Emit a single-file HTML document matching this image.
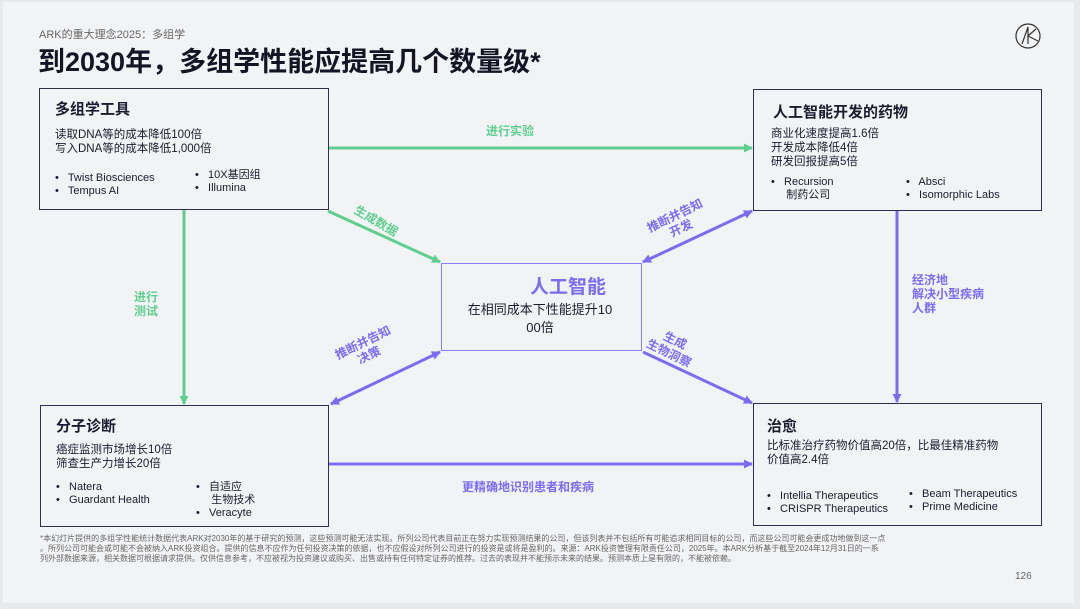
<!DOCTYPE html>
<html><head><meta charset="utf-8"><style>
*{margin:0;padding:0;box-sizing:border-box}
body{width:1080px;height:609px;background:#e8e9eb;position:relative;overflow:hidden;font-family:"Liberation Sans","Noto Sans CJK SC",sans-serif;color:#1b1b2f}
.slide{position:absolute;left:3px;top:2px;width:1071px;height:601px;background:#f2f3f5}
.a{position:absolute}
.box{position:absolute;border:1.5px solid #2f2f4f;background:#f2f3f5}
.h{font-weight:bold;font-size:15px}
.t{font-size:11.5px;line-height:14px}
.b{font-size:11px;line-height:13px}
.lab{position:absolute;font-weight:bold;font-size:12px;line-height:14px;text-align:center}
.g{color:#5fcf8d}.p{color:#7b6cf3}
</style></head><body>
<div class="slide"></div>
<div class="a" style="left:39px;top:26px;font-size:11px;color:#666">ARK的重大理念2025：多组学</div>
<div class="a" style="left:38px;top:40px;font-size:27px;font-weight:bold;color:#141425">到2030年，多组学性能应提高几个数量级*</div>
<svg class="a" style="left:1014px;top:22px" width="28" height="28" viewBox="0 0 28 28"><circle cx="14" cy="14" r="12" fill="none" stroke="#333" stroke-width="1.2"/><path d="M8 22 L14 5 L14 22 M14 14 L22 7 M14 14 L24 19" fill="none" stroke="#333" stroke-width="1.2"/></svg>

<svg class="a" style="left:0;top:0" width="1080" height="609">
<defs>
<marker id="mg" markerWidth="9" markerHeight="9" refX="8" refY="4.5" orient="auto-start-reverse" markerUnits="userSpaceOnUse"><path d="M0,0 L9,4.5 L0,9 z" fill="#5fcf8d"/></marker>
<marker id="mp" markerWidth="9" markerHeight="9" refX="8" refY="4.5" orient="auto-start-reverse" markerUnits="userSpaceOnUse"><path d="M0,0 L9,4.5 L0,9 z" fill="#7b6cf3"/></marker>
</defs>
<g stroke-width="3" fill="none">
<line x1="328" y1="148" x2="752" y2="148" stroke="#5fcf8d" marker-end="url(#mg)"/>
<line x1="184" y1="209" x2="184" y2="404" stroke="#5fcf8d" marker-end="url(#mg)"/>
<line x1="328" y1="211" x2="440" y2="262" stroke="#5fcf8d" marker-end="url(#mg)"/>
<line x1="643" y1="262" x2="752" y2="211" stroke="#7b6cf3" marker-start="url(#mp)" marker-end="url(#mp)"/>
<line x1="331" y1="404" x2="440" y2="352" stroke="#7b6cf3" marker-start="url(#mp)" marker-end="url(#mp)"/>
<line x1="643" y1="352" x2="752" y2="403" stroke="#7b6cf3" marker-end="url(#mp)"/>
<line x1="897" y1="210" x2="897" y2="402" stroke="#7b6cf3" marker-end="url(#mp)"/>
<line x1="328" y1="464" x2="752" y2="464" stroke="#7b6cf3" marker-end="url(#mp)"/>
</g></svg>

<div class="box" style="left:39px;top:88px;width:290px;height:122px">
<div class="a h" style="left:15px;top:9px">多组学工具</div>
<div class="a t" style="left:15px;top:39px">读取DNA等的成本降低100倍<br>写入DNA等的成本降低1,000倍</div>
<div class="a b" style="left:15px;top:83px">•&nbsp;&nbsp; Twist Biosciences<br>•&nbsp;&nbsp; Tempus AI</div>
<div class="a b" style="left:155px;top:80px">•&nbsp;&nbsp; 10X基因组<br>•&nbsp;&nbsp; Illumina</div>
</div>
<div class="box" style="left:753px;top:89px;width:289px;height:122px">
<div class="a h" style="left:19px;top:11px">人工智能开发的药物</div>
<div class="a t" style="left:17px;top:37px">商业化速度提高1.6倍<br>开发成本降低4倍<br>研发回报提高5倍</div>
<div class="a b" style="left:17px;top:86px">•&nbsp;&nbsp; Recursion<br>&nbsp;&nbsp;&nbsp;&nbsp; 制药公司</div>
<div class="a b" style="left:152px;top:86px">•&nbsp;&nbsp; Absci<br>•&nbsp;&nbsp; Isomorphic Labs</div>
</div>
<div class="box" style="left:441px;top:263px;width:201px;height:88px;border-color:#8a7ef5">
<div class="a" style="left:88px;top:8px;font-size:19px;font-weight:bold;color:#7b6cf3">人工智能</div>
<div class="a" style="left:8px;top:37px;width:180px;text-align:center;font-size:13px;line-height:18px">在相同成本下性能提升10<br>00倍</div>
</div>
<div class="box" style="left:40px;top:405px;width:289px;height:122px">
<div class="a h" style="left:15px;top:9px">分子诊断</div>
<div class="a t" style="left:15px;top:37px">癌症监测市场增长10倍<br>筛查生产力增长20倍</div>
<div class="a b" style="left:15px;top:75px">•&nbsp;&nbsp; Natera<br>•&nbsp;&nbsp; Guardant Health</div>
<div class="a b" style="left:155px;top:75px">•&nbsp;&nbsp; 自适应<br>&nbsp;&nbsp;&nbsp;&nbsp; 生物技术<br>•&nbsp;&nbsp; Veracyte</div>
</div>
<div class="box" style="left:753px;top:403px;width:289px;height:123px">
<div class="a h" style="left:13px;top:11px">治愈</div>
<div class="a t" style="left:13px;top:35px">比标准治疗药物价值高20倍，比最佳精准药物<br>价值高2.4倍</div>
<div class="a b" style="left:13px;top:86px">•&nbsp;&nbsp; Intellia Therapeutics<br>•&nbsp;&nbsp; CRISPR Therapeutics</div>
<div class="a b" style="left:155px;top:84px">•&nbsp;&nbsp; Beam Therapeutics<br>•&nbsp;&nbsp; Prime Medicine</div>
</div>

<div class="lab g" style="left:486px;top:124px">进行实验</div>
<div class="lab g" style="left:134px;top:290px">进行<br>测试</div>
<div class="lab g" style="left:352px;top:214px;transform:rotate(30deg)">生成数据</div>
<div class="lab p" style="left:648px;top:208px;transform:rotate(-26deg)">推断并告知<br>开发</div>
<div class="lab p" style="left:336px;top:335px;transform:rotate(-26deg)">推断并告知<br>决策</div>
<div class="lab p" style="left:648px;top:333px;transform:rotate(26deg)">生成<br>生物洞察</div>
<div class="lab p" style="left:912px;top:273px;text-align:left">经济地<br>解决小型疾病<br>人群</div>
<div class="lab p" style="left:462px;top:480px">更精确地识别患者和疾病</div>

<div class="a" style="left:40px;top:534px;width:960px;font-size:8px;line-height:10px;color:#666">*本幻灯片提供的多组学性能统计数据代表ARK对2030年的基于研究的预测，这些预测可能无法实现。所列公司代表目前正在努力实现预测结果的公司，但该列表并不包括所有可能追求相同目标的公司，而这些公司可能会更成功地做到这一点<br>。所列公司可能会或可能不会被纳入ARK投资组合。提供的信息不应作为任何投资决策的依据，也不应假设对所列公司进行的投资是或将是盈利的。来源：ARK投资管理有限责任公司，2025年。本ARK分析基于截至2024年12月31日的一系<br>列外部数据来源，相关数据可根据请求提供。仅供信息参考，不应被视为投资建议或购买、出售或持有任何特定证券的推荐。过去的表现并不能预示未来的结果。预测本质上是有限的，不能被依赖。</div>
<div class="a" style="left:1015px;top:571px;font-size:10px;color:#666">126</div>
</body></html>
